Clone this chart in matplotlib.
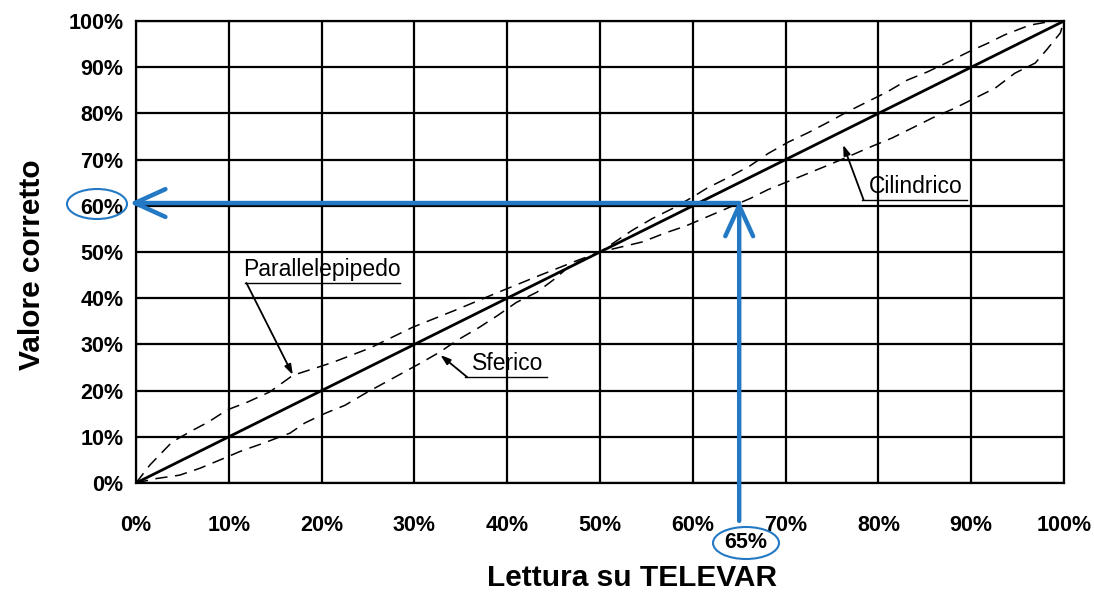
import numpy as np
import matplotlib
matplotlib.use("Agg")
import matplotlib.pyplot as plt
from matplotlib.patches import Ellipse

plt.rcParams["font.family"] = ["Liberation Sans", "DejaVu Sans"]

# reading on the gauge (%) and corrected value (%)
diag_x = [0, 100]
diag_y = [0, 100]

# upper curve below 50%, lower above 50%
curve1_x = [0, 1.5, 3.9, 6.1, 7.8, 9.8, 12, 14.4, 16.9, 21.2, 25.2, 29.8, 34.4,
            38.7, 43.2, 47.6, 50, 54.6, 57.0, 59.2, 61.3, 66.2, 68.1, 74.6, 76.7,
            79.1, 81.5, 83.6, 85.8, 88.3, 90.4, 92.6, 94.7, 96.9, 98.1, 99.6, 100]
curve1_y = [0, 3.9, 8.9, 11.4, 13.2, 15.8, 17.5, 19.7, 23.3, 26.1, 29.2, 33.7, 37.4,
            41.0, 44.7, 48.2, 50, 52.2, 54.1, 55.6, 57.4, 61.6, 63.5, 68.8, 70.6,
            72.7, 74.7, 76.8, 79.0, 81.2, 83.3, 85.5, 88.7, 90.9, 93.7, 97.4, 100]

# lower curve below 50%, upper above 50%
curve2_x = [0, 2, 4.7, 6.9, 9.3, 11.3, 13.7, 16.6, 18.2, 20.4, 22.5, 24.7, 30.8,
            32.7, 34.7, 37, 39, 41, 43.2, 45.2, 46.8, 50, 53.4, 55.6, 57.8, 59.9,
            61.6, 63.8, 66.2, 68.1, 70.3, 72.4, 74.6, 76.6, 78.8, 80.9, 83.1, 85.3,
            87.5, 89.7, 91.8, 93.6, 96.3, 98.8, 100]
curve2_y = [0, 0.9, 1.7, 3.2, 5.2, 6.9, 8.6, 10.8, 13.0, 15.1, 16.8, 19.4, 26.1,
            28.3, 31.0, 33.7, 36.3, 39.1, 41.3, 44.3, 47.1, 50, 54.6, 57.2, 59.4, 61.8,
            63.9, 66.1, 68.7, 71.3, 73.8, 75.8, 78.1, 80.3, 82.5, 84.6, 87.2, 89.0,
            91.1, 93.3, 95.2, 97.0, 99.1, 100, 100]

ticks = list(range(0, 101, 10))
tick_labels = [f"{t}%" for t in ticks]

reading = 65
corrected = 60.6

blue = "#2479c4"

fig = plt.figure(figsize=(10.94, 5.96), dpi=100)
ax = fig.add_axes([136 / 1094, 1 - 483 / 596, 928 / 1094, 462 / 596])

ax.set_xlim(0, 100)
ax.set_ylim(0, 100)
ax.set_xticks(ticks)
ax.set_yticks(ticks)
ax.set_xticklabels(tick_labels, fontsize=15.5, fontweight="bold")
ax.set_yticklabels(tick_labels, fontsize=15.5, fontweight="bold")
ax.tick_params(axis="x", length=0, pad=23)
ax.tick_params(axis="y", length=0, pad=9)
ax.grid(True, color="black", linewidth=1.6)
for s in ax.spines.values():
    s.set_linewidth(1.6)

ax.plot(diag_x, diag_y, color="black", linewidth=2.0, zorder=3)
ax.plot(curve1_x, curve1_y, color="black", linewidth=1.1, dashes=(8, 5), zorder=3)
ax.plot(curve2_x, curve2_y, color="black", linewidth=1.1, dashes=(8, 5), zorder=3)

# labels with underline leaders: text, underline start/end, text start, line y, arrow tip
labels = [
    ("Parallelepipedo", 11.7, 28.4, 11.5, 43.3, (16.9, 23.4)),
    ("Sferico", 35.5, 44.3, 36.2, 22.9, (32.8, 27.7)),
    ("Cilindrico", 78.2, 89.5, 79.0, 61.3, (76.2, 73.2)),
]
for txt, x0, x1, xt, yl, tip in labels:
    ax.plot([x0, x1], [yl, yl], color="black", linewidth=1.0, zorder=4)
    ax.text(xt, yl + 0.4, txt, fontsize=16.5, ha="left", va="bottom", zorder=4)
    ax.annotate("", xy=tip, xytext=(x0 + 0.2, yl),
                arrowprops=dict(arrowstyle="-|>,head_length=0.6,head_width=0.2",
                                color="black", linewidth=1.3, shrinkA=0, shrinkB=0),
                zorder=4)

# blue reading arrows
ax.annotate("", xy=(reading, corrected + 0.6), xytext=(reading, -8.2),
            xycoords="data", annotation_clip=False,
            arrowprops=dict(arrowstyle="->,head_length=1.1,head_width=0.5",
                            color=blue, linewidth=3.2, shrinkA=0, shrinkB=0,
                            mutation_scale=20))
ax.annotate("", xy=(-0.7, corrected), xytext=(reading, corrected),
            xycoords="data", annotation_clip=False,
            arrowprops=dict(arrowstyle="->,head_length=1.1,head_width=0.5",
                            color=blue, linewidth=3.2, shrinkA=0, shrinkB=0,
                            mutation_scale=20))

# circled values
fig.patches.append(Ellipse((97 / 1094, 1 - 204 / 596), 60 / 1094, 30 / 596,
                           transform=fig.transFigure, fill=False,
                           edgecolor=blue, linewidth=1.5))
fig.text(746 / 1094, 1 - 543 / 596, "65%", fontsize=15.5, fontweight="bold",
         ha="center", va="center")
fig.patches.append(Ellipse((746 / 1094, 1 - 543 / 596), 66 / 1094, 32 / 596,
                           transform=fig.transFigure, fill=False,
                           edgecolor=blue, linewidth=1.5))

fig.text(632 / 1094, 1 - 578 / 596, "Lettura su TELEVAR", fontsize=21.5,
         fontweight="bold", ha="center", va="center")
fig.text(32 / 1094, 1 - 265 / 596, "Valore corretto", fontsize=21.5,
         fontweight="bold", ha="center", va="center", rotation=90)

fig.savefig("out.png", dpi=100)
